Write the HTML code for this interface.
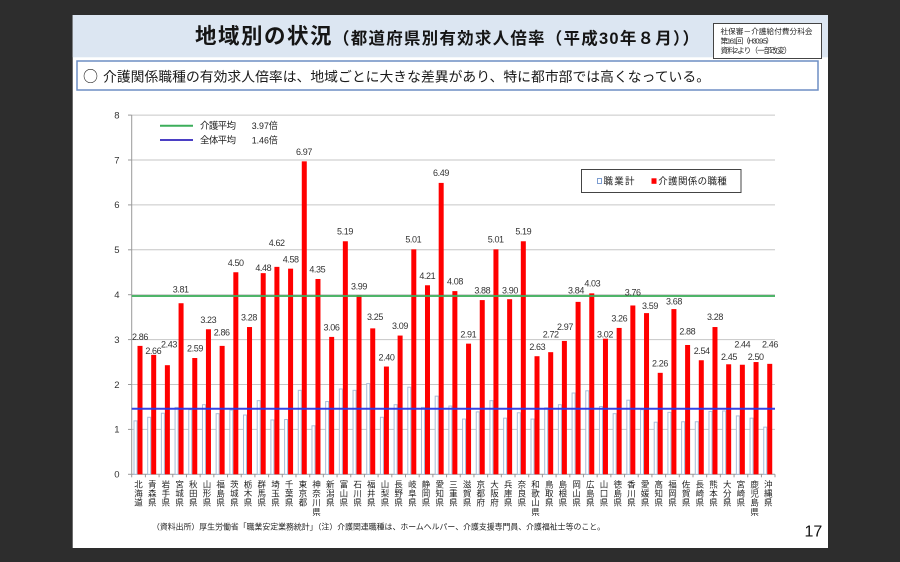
<!DOCTYPE html>
<html><head><meta charset="utf-8"><style>
html,body{margin:0;padding:0;background:#2d2d2d;}
svg{display:block;}
</style></head><body>
<svg width="900" height="562" viewBox="0 0 900 562" xmlns="http://www.w3.org/2000/svg" font-family="'Liberation Sans','Noto Sans CJK JP',sans-serif">
<rect width="900" height="562" fill="#2d2d2d"/>
<rect x="72.7" y="15" width="755.3" height="533" fill="#ffffff"/>
<rect x="72.7" y="15" width="755.3" height="42.3" fill="#dce6f2"/>

<!-- Title -->
<text x="195" y="43.5" font-size="21.5" font-weight="bold" fill="#151515" textLength="136.5" lengthAdjust="spacing">地域別の状況</text>
<text x="333" y="44" font-size="16.5" font-weight="bold" fill="#151515" textLength="366" lengthAdjust="spacing">（都道府県別有効求人倍率（平成30年８月））</text>

<!-- Source box -->
<rect x="713.5" y="23.5" width="108" height="35" fill="#fff" stroke="#444" stroke-width="1"/>
<text x="720.5" y="34.2" font-size="7.6" fill="#222" textLength="92" lengthAdjust="spacing">社保審－介護給付費分科会</text>
<text x="720.5" y="43.6" font-size="7.6" fill="#222" textLength="53" lengthAdjust="spacing">第161回（H30.9.5）</text>
<text x="720.5" y="53.2" font-size="7.6" fill="#222" textLength="71" lengthAdjust="spacing">資料2より（一部改変）</text>

<!-- Summary box -->
<rect x="77" y="61" width="741" height="29" fill="#fff" stroke="#6d8ec4" stroke-width="1.5"/>
<text x="83" y="81.5" font-size="15" fill="#1a1a1a" font-family="'Noto Sans CJK JP',sans-serif">○</text>
<text x="103" y="81.5" font-size="13.8" fill="#1a1a1a" textLength="607" lengthAdjust="spacing">介護関係職種の有効求人倍率は、地域ごとに大きな差異があり、特に都市部では高くなっている。</text>

<!-- Grid -->
<g stroke="#c6c6c6" stroke-width="1">
<line x1="131.7" x2="775" y1="115.1" y2="115.1"/>
<line x1="131.7" x2="775" y1="160" y2="160"/>
<line x1="131.7" x2="775" y1="204.9" y2="204.9"/>
<line x1="131.7" x2="775" y1="249.8" y2="249.8"/>
<line x1="131.7" x2="775" y1="294.7" y2="294.7"/>
<line x1="131.7" x2="775" y1="339.6" y2="339.6"/>
<line x1="131.7" x2="775" y1="384.5" y2="384.5"/>
<line x1="131.7" x2="775" y1="429.4" y2="429.4"/>
</g>
<g stroke="#9a9a9a" stroke-width="1">
<line x1="131.7" x2="131.7" y1="115" y2="474.3"/>
<line x1="131.7" x2="775" y1="474.3" y2="474.3"/>
<line x1="128" x2="131.7" y1="115.1" y2="115.1"/>
<line x1="128" x2="131.7" y1="160" y2="160"/>
<line x1="128" x2="131.7" y1="204.9" y2="204.9"/>
<line x1="128" x2="131.7" y1="249.8" y2="249.8"/>
<line x1="128" x2="131.7" y1="294.7" y2="294.7"/>
<line x1="128" x2="131.7" y1="339.6" y2="339.6"/>
<line x1="128" x2="131.7" y1="384.5" y2="384.5"/>
<line x1="128" x2="131.7" y1="429.4" y2="429.4"/>
<line x1="128" x2="131.7" y1="474.3" y2="474.3"/>
</g>

<!-- Y labels -->
<g font-size="9.5" fill="#333" text-anchor="end">
<text x="119.5" y="118.4">8</text>
<text x="119.5" y="163.3">7</text>
<text x="119.5" y="208.2">6</text>
<text x="119.5" y="253.1">5</text>
<text x="119.5" y="298">4</text>
<text x="119.5" y="342.9">3</text>
<text x="119.5" y="387.8">2</text>
<text x="119.5" y="432.7">1</text>
<text x="119.5" y="477.6">0</text>
</g>

<!-- Bars -->
<g transform="translate(131.7,474.3)">
<g fill="#fff" stroke="#a7bcd8" stroke-width="1">
<rect x="2.3" y="-53.43" width="3" height="53.43"/>
<rect x="15.99" y="-57.02" width="3" height="57.02"/>
<rect x="29.68" y="-61.06" width="3" height="61.06"/>
<rect x="43.37" y="-66.90" width="3" height="66.90"/>
<rect x="57.06" y="-64.66" width="3" height="64.66"/>
<rect x="70.75" y="-69.60" width="3" height="69.60"/>
<rect x="84.44" y="-60.62" width="3" height="60.62"/>
<rect x="98.13" y="-64.21" width="3" height="64.21"/>
<rect x="111.82" y="-59.27" width="3" height="59.27"/>
<rect x="125.51" y="-73.64" width="3" height="73.64"/>
<rect x="139.2" y="-54.33" width="3" height="54.33"/>
<rect x="152.89" y="-54.78" width="3" height="54.78"/>
<rect x="166.58" y="-83.96" width="3" height="83.96"/>
<rect x="180.27" y="-48.49" width="3" height="48.49"/>
<rect x="193.96" y="-72.74" width="3" height="72.74"/>
<rect x="207.65" y="-85.31" width="3" height="85.31"/>
<rect x="221.34" y="-83.96" width="3" height="83.96"/>
<rect x="235.03" y="-90.70" width="3" height="90.70"/>
<rect x="248.72" y="-57.02" width="3" height="57.02"/>
<rect x="262.41" y="-69.60" width="3" height="69.60"/>
<rect x="276.1" y="-87.11" width="3" height="87.11"/>
<rect x="289.79" y="-66.90" width="3" height="66.90"/>
<rect x="303.48" y="-78.13" width="3" height="78.13"/>
<rect x="317.17" y="-68.25" width="3" height="68.25"/>
<rect x="330.86" y="-55.23" width="3" height="55.23"/>
<rect x="344.55" y="-62.41" width="3" height="62.41"/>
<rect x="358.24" y="-73.64" width="3" height="73.64"/>
<rect x="371.93" y="-56.13" width="3" height="56.13"/>
<rect x="385.62" y="-61.51" width="3" height="61.51"/>
<rect x="399.31" y="-55.23" width="3" height="55.23"/>
<rect x="413.0" y="-66.45" width="3" height="66.45"/>
<rect x="426.69" y="-69.60" width="3" height="69.60"/>
<rect x="440.38" y="-81.27" width="3" height="81.27"/>
<rect x="454.07" y="-83.51" width="3" height="83.51"/>
<rect x="467.76" y="-67.80" width="3" height="67.80"/>
<rect x="481.45" y="-60.62" width="3" height="60.62"/>
<rect x="495.14" y="-74.09" width="3" height="74.09"/>
<rect x="508.83" y="-64.66" width="3" height="64.66"/>
<rect x="522.52" y="-52.08" width="3" height="52.08"/>
<rect x="536.21" y="-61.96" width="3" height="61.96"/>
<rect x="549.9" y="-52.53" width="3" height="52.53"/>
<rect x="563.59" y="-52.53" width="3" height="52.53"/>
<rect x="577.28" y="-62.86" width="3" height="62.86"/>
<rect x="590.97" y="-63.31" width="3" height="63.31"/>
<rect x="604.66" y="-58.37" width="3" height="58.37"/>
<rect x="618.35" y="-56.13" width="3" height="56.13"/>
<rect x="632.04" y="-47.15" width="3" height="47.15"/>
</g>
<g fill="#ff0000">
<rect x="5.8" y="-128.41" width="5" height="128.41"/>
<rect x="19.49" y="-119.43" width="5" height="119.43"/>
<rect x="33.18" y="-109.11" width="5" height="109.11"/>
<rect x="46.87" y="-171.07" width="5" height="171.07"/>
<rect x="60.56" y="-116.29" width="5" height="116.29"/>
<rect x="74.25" y="-145.03" width="5" height="145.03"/>
<rect x="87.94" y="-128.41" width="5" height="128.41"/>
<rect x="101.63" y="-202.05" width="5" height="202.05"/>
<rect x="115.32" y="-147.27" width="5" height="147.27"/>
<rect x="129.01" y="-201.15" width="5" height="201.15"/>
<rect x="142.7" y="-207.44" width="5" height="207.44"/>
<rect x="156.39" y="-205.64" width="5" height="205.64"/>
<rect x="170.08" y="-312.95" width="5" height="312.95"/>
<rect x="183.77" y="-195.32" width="5" height="195.32"/>
<rect x="197.46" y="-137.39" width="5" height="137.39"/>
<rect x="211.15" y="-233.03" width="5" height="233.03"/>
<rect x="224.84" y="-179.15" width="5" height="179.15"/>
<rect x="238.53" y="-145.93" width="5" height="145.93"/>
<rect x="252.22" y="-107.76" width="5" height="107.76"/>
<rect x="265.91" y="-138.74" width="5" height="138.74"/>
<rect x="279.6" y="-224.95" width="5" height="224.95"/>
<rect x="293.29" y="-189.03" width="5" height="189.03"/>
<rect x="306.98" y="-291.40" width="5" height="291.40"/>
<rect x="320.67" y="-183.19" width="5" height="183.19"/>
<rect x="334.36" y="-130.66" width="5" height="130.66"/>
<rect x="348.05" y="-174.21" width="5" height="174.21"/>
<rect x="361.74" y="-224.95" width="5" height="224.95"/>
<rect x="375.43" y="-175.11" width="5" height="175.11"/>
<rect x="389.12" y="-233.03" width="5" height="233.03"/>
<rect x="402.81" y="-118.09" width="5" height="118.09"/>
<rect x="416.5" y="-122.13" width="5" height="122.13"/>
<rect x="430.19" y="-133.35" width="5" height="133.35"/>
<rect x="443.88" y="-172.42" width="5" height="172.42"/>
<rect x="457.57" y="-180.95" width="5" height="180.95"/>
<rect x="471.26" y="-135.60" width="5" height="135.60"/>
<rect x="484.95" y="-146.37" width="5" height="146.37"/>
<rect x="498.64" y="-168.82" width="5" height="168.82"/>
<rect x="512.33" y="-161.19" width="5" height="161.19"/>
<rect x="526.02" y="-101.47" width="5" height="101.47"/>
<rect x="539.71" y="-165.23" width="5" height="165.23"/>
<rect x="553.4" y="-129.31" width="5" height="129.31"/>
<rect x="567.09" y="-114.05" width="5" height="114.05"/>
<rect x="580.78" y="-147.27" width="5" height="147.27"/>
<rect x="594.47" y="-110.01" width="5" height="110.01"/>
<rect x="608.16" y="-109.56" width="5" height="109.56"/>
<rect x="621.85" y="-112.25" width="5" height="112.25"/>
<rect x="635.54" y="-110.45" width="5" height="110.45"/>
</g>
<!-- x ticks -->
<g stroke="#9a9a9a" stroke-width="1">
<line x1="0" x2="0" y1="0" y2="3"/><line x1="13.69" x2="13.69" y1="0" y2="3"/><line x1="27.38" x2="27.38" y1="0" y2="3"/><line x1="41.07" x2="41.07" y1="0" y2="3"/><line x1="54.76" x2="54.76" y1="0" y2="3"/><line x1="68.45" x2="68.45" y1="0" y2="3"/><line x1="82.14" x2="82.14" y1="0" y2="3"/><line x1="95.83" x2="95.83" y1="0" y2="3"/><line x1="109.52" x2="109.52" y1="0" y2="3"/><line x1="123.21" x2="123.21" y1="0" y2="3"/><line x1="136.9" x2="136.9" y1="0" y2="3"/><line x1="150.59" x2="150.59" y1="0" y2="3"/><line x1="164.28" x2="164.28" y1="0" y2="3"/><line x1="177.97" x2="177.97" y1="0" y2="3"/><line x1="191.66" x2="191.66" y1="0" y2="3"/><line x1="205.35" x2="205.35" y1="0" y2="3"/><line x1="219.04" x2="219.04" y1="0" y2="3"/><line x1="232.73" x2="232.73" y1="0" y2="3"/><line x1="246.42" x2="246.42" y1="0" y2="3"/><line x1="260.11" x2="260.11" y1="0" y2="3"/><line x1="273.8" x2="273.8" y1="0" y2="3"/><line x1="287.49" x2="287.49" y1="0" y2="3"/><line x1="301.18" x2="301.18" y1="0" y2="3"/><line x1="314.87" x2="314.87" y1="0" y2="3"/><line x1="328.56" x2="328.56" y1="0" y2="3"/><line x1="342.25" x2="342.25" y1="0" y2="3"/><line x1="355.94" x2="355.94" y1="0" y2="3"/><line x1="369.63" x2="369.63" y1="0" y2="3"/><line x1="383.32" x2="383.32" y1="0" y2="3"/><line x1="397.01" x2="397.01" y1="0" y2="3"/><line x1="410.7" x2="410.7" y1="0" y2="3"/><line x1="424.39" x2="424.39" y1="0" y2="3"/><line x1="438.08" x2="438.08" y1="0" y2="3"/><line x1="451.77" x2="451.77" y1="0" y2="3"/><line x1="465.46" x2="465.46" y1="0" y2="3"/><line x1="479.15" x2="479.15" y1="0" y2="3"/><line x1="492.84" x2="492.84" y1="0" y2="3"/><line x1="506.53" x2="506.53" y1="0" y2="3"/><line x1="520.22" x2="520.22" y1="0" y2="3"/><line x1="533.91" x2="533.91" y1="0" y2="3"/><line x1="547.6" x2="547.6" y1="0" y2="3"/><line x1="561.29" x2="561.29" y1="0" y2="3"/><line x1="574.98" x2="574.98" y1="0" y2="3"/><line x1="588.67" x2="588.67" y1="0" y2="3"/><line x1="602.36" x2="602.36" y1="0" y2="3"/><line x1="616.05" x2="616.05" y1="0" y2="3"/><line x1="629.74" x2="629.74" y1="0" y2="3"/><line x1="643.3" x2="643.3" y1="0" y2="3"/>
</g>
</g>

<!-- Average lines -->
<line x1="131.7" x2="775" y1="296" y2="296" stroke="#3cae5a" stroke-width="2" opacity="0.9"/>
<line x1="131.7" x2="775" y1="408.7" y2="408.7" stroke="#2a3be6" stroke-width="2" opacity="0.95"/>

<!-- Legend top-left -->
<line x1="160" x2="193" y1="125.7" y2="125.7" stroke="#3cae5a" stroke-width="2"/>
<text x="200" y="129.2" font-size="9.5" fill="#222" textLength="36" lengthAdjust="spacing">介護平均</text>
<text x="251.7" y="129.2" font-size="9.5" fill="#222" textLength="26" lengthAdjust="spacingAndGlyphs">3.97倍</text>
<line x1="160" x2="193" y1="140" y2="140" stroke="#4b3fc4" stroke-width="2"/>
<text x="200" y="143.5" font-size="9.5" fill="#222" textLength="36" lengthAdjust="spacing">全体平均</text>
<text x="251.7" y="143.5" font-size="9.5" fill="#222" textLength="26" lengthAdjust="spacingAndGlyphs">1.46倍</text>

<!-- Legend right -->
<rect x="581.5" y="169.5" width="159.5" height="23" fill="#fff" stroke="#444" stroke-width="1"/>
<rect x="597.5" y="178.5" width="4" height="5" fill="#fff" stroke="#6f93cc" stroke-width="0.9"/>
<text x="603.5" y="184.5" font-size="9.5" fill="#222" textLength="31" lengthAdjust="spacing">職業計</text>
<rect x="651.5" y="178.3" width="5" height="5.5" fill="#ff0000"/>
<text x="658.3" y="184.5" font-size="9.5" fill="#222" textLength="68.5" lengthAdjust="spacing">介護関係の職種</text>

<!-- Data labels -->
<g font-size="9" fill="#333" text-anchor="middle" letter-spacing="-0.4">
<text x="140" y="339.8">2.86</text>
<text x="153.3" y="353.8">2.66</text>
<text x="169" y="347.3">2.43</text>
<text x="180.7" y="292.6">3.81</text>
<text x="195" y="351.6">2.59</text>
<text x="208.3" y="322.8">3.23</text>
<text x="221.7" y="335.6">2.86</text>
<text x="235.7" y="266">4.50</text>
<text x="249" y="320.6">3.28</text>
<text x="263.3" y="271">4.48</text>
<text x="276.7" y="246">4.62</text>
<text x="290.7" y="262.3">4.58</text>
<text x="304" y="155">6.97</text>
<text x="317.3" y="272.6">4.35</text>
<text x="331.5" y="330.3">3.06</text>
<text x="345" y="234.3">5.19</text>
<text x="359" y="289.3">3.99</text>
<text x="375" y="320">3.25</text>
<text x="386.5" y="360.3">2.40</text>
<text x="400" y="329">3.09</text>
<text x="413.3" y="242.6">5.01</text>
<text x="427.3" y="279">4.21</text>
<text x="441" y="176">6.49</text>
<text x="455" y="284.6">4.08</text>
<text x="468.3" y="337.3">2.91</text>
<text x="482.3" y="293.6">3.88</text>
<text x="495.7" y="242.6">5.01</text>
<text x="510" y="293.6">3.90</text>
<text x="523.3" y="234.3">5.19</text>
<text x="537.3" y="350">2.63</text>
<text x="550.7" y="337.3">2.72</text>
<text x="565" y="330">2.97</text>
<text x="576" y="293.3">3.84</text>
<text x="592.3" y="286.6">4.03</text>
<text x="605" y="337.3">3.02</text>
<text x="619.3" y="321.3">3.26</text>
<text x="632.7" y="295.3">3.76</text>
<text x="650" y="309">3.59</text>
<text x="660" y="366.6">2.26</text>
<text x="674" y="304.6">3.68</text>
<text x="687.3" y="334.6">2.88</text>
<text x="701.7" y="354">2.54</text>
<text x="715" y="320">3.28</text>
<text x="729" y="360">2.45</text>
<text x="742.3" y="347.3">2.44</text>
<text x="755.7" y="360">2.50</text>
<text x="770" y="347.3">2.46</text>
</g>

<!-- Category labels (vertical) -->
<g font-size="8.5" fill="#222" text-anchor="middle">
<text x="138.55 138.55 138.55 138.55" y="487.3 496.5 505.7 514.9">北海道</text>
<text x="152.24 152.24 152.24 152.24" y="487.3 496.5 505.7 514.9">青森県</text>
<text x="165.93 165.93 165.93 165.93" y="487.3 496.5 505.7 514.9">岩手県</text>
<text x="179.62 179.62 179.62 179.62" y="487.3 496.5 505.7 514.9">宮城県</text>
<text x="193.31 193.31 193.31 193.31" y="487.3 496.5 505.7 514.9">秋田県</text>
<text x="207.0 207.0 207.0 207.0" y="487.3 496.5 505.7 514.9">山形県</text>
<text x="220.69 220.69 220.69 220.69" y="487.3 496.5 505.7 514.9">福島県</text>
<text x="234.38 234.38 234.38 234.38" y="487.3 496.5 505.7 514.9">茨城県</text>
<text x="248.07 248.07 248.07 248.07" y="487.3 496.5 505.7 514.9">栃木県</text>
<text x="261.76 261.76 261.76 261.76" y="487.3 496.5 505.7 514.9">群馬県</text>
<text x="275.45 275.45 275.45 275.45" y="487.3 496.5 505.7 514.9">埼玉県</text>
<text x="289.14 289.14 289.14 289.14" y="487.3 496.5 505.7 514.9">千葉県</text>
<text x="302.83 302.83 302.83 302.83" y="487.3 496.5 505.7 514.9">東京都</text>
<text x="316.52 316.52 316.52 316.52" y="487.3 496.5 505.7 514.9">神奈川県</text>
<text x="330.21 330.21 330.21 330.21" y="487.3 496.5 505.7 514.9">新潟県</text>
<text x="343.9 343.9 343.9 343.9" y="487.3 496.5 505.7 514.9">富山県</text>
<text x="357.59 357.59 357.59 357.59" y="487.3 496.5 505.7 514.9">石川県</text>
<text x="371.28 371.28 371.28 371.28" y="487.3 496.5 505.7 514.9">福井県</text>
<text x="384.97 384.97 384.97 384.97" y="487.3 496.5 505.7 514.9">山梨県</text>
<text x="398.66 398.66 398.66 398.66" y="487.3 496.5 505.7 514.9">長野県</text>
<text x="412.35 412.35 412.35 412.35" y="487.3 496.5 505.7 514.9">岐阜県</text>
<text x="426.04 426.04 426.04 426.04" y="487.3 496.5 505.7 514.9">静岡県</text>
<text x="439.73 439.73 439.73 439.73" y="487.3 496.5 505.7 514.9">愛知県</text>
<text x="453.42 453.42 453.42 453.42" y="487.3 496.5 505.7 514.9">三重県</text>
<text x="467.11 467.11 467.11 467.11" y="487.3 496.5 505.7 514.9">滋賀県</text>
<text x="480.8 480.8 480.8 480.8" y="487.3 496.5 505.7 514.9">京都府</text>
<text x="494.49 494.49 494.49 494.49" y="487.3 496.5 505.7 514.9">大阪府</text>
<text x="508.18 508.18 508.18 508.18" y="487.3 496.5 505.7 514.9">兵庫県</text>
<text x="521.87 521.87 521.87 521.87" y="487.3 496.5 505.7 514.9">奈良県</text>
<text x="535.56 535.56 535.56 535.56" y="487.3 496.5 505.7 514.9">和歌山県</text>
<text x="549.25 549.25 549.25 549.25" y="487.3 496.5 505.7 514.9">鳥取県</text>
<text x="562.94 562.94 562.94 562.94" y="487.3 496.5 505.7 514.9">島根県</text>
<text x="576.63 576.63 576.63 576.63" y="487.3 496.5 505.7 514.9">岡山県</text>
<text x="590.32 590.32 590.32 590.32" y="487.3 496.5 505.7 514.9">広島県</text>
<text x="604.01 604.01 604.01 604.01" y="487.3 496.5 505.7 514.9">山口県</text>
<text x="617.7 617.7 617.7 617.7" y="487.3 496.5 505.7 514.9">徳島県</text>
<text x="631.39 631.39 631.39 631.39" y="487.3 496.5 505.7 514.9">香川県</text>
<text x="645.08 645.08 645.08 645.08" y="487.3 496.5 505.7 514.9">愛媛県</text>
<text x="658.77 658.77 658.77 658.77" y="487.3 496.5 505.7 514.9">高知県</text>
<text x="672.46 672.46 672.46 672.46" y="487.3 496.5 505.7 514.9">福岡県</text>
<text x="686.15 686.15 686.15 686.15" y="487.3 496.5 505.7 514.9">佐賀県</text>
<text x="699.84 699.84 699.84 699.84" y="487.3 496.5 505.7 514.9">長崎県</text>
<text x="713.53 713.53 713.53 713.53" y="487.3 496.5 505.7 514.9">熊本県</text>
<text x="727.22 727.22 727.22 727.22" y="487.3 496.5 505.7 514.9">大分県</text>
<text x="740.91 740.91 740.91 740.91" y="487.3 496.5 505.7 514.9">宮崎県</text>
<text x="754.6 754.6 754.6 754.6" y="487.3 496.5 505.7 514.9">鹿児島県</text>
<text x="768.29 768.29 768.29 768.29" y="487.3 496.5 505.7 514.9">沖縄県</text>
</g>

<!-- Footnote -->
<text x="152" y="529.5" font-size="7.8" fill="#222" textLength="453" lengthAdjust="spacingAndGlyphs">（資料出所）厚生労働省「職業安定業務統計」（注）介護関連職種は、ホームヘルパー、介護支援専門員、介護福祉士等のこと。</text>

<!-- Page number -->
<text x="804.5" y="536.7" font-size="16" fill="#111">17</text>
</svg>
</body></html>
